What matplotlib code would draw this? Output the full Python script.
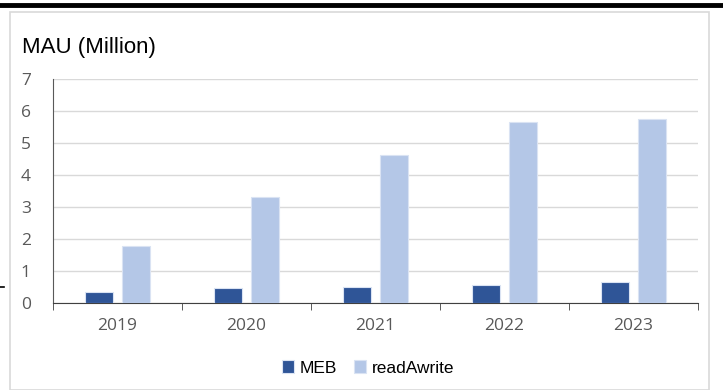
import matplotlib.pyplot as plt
import numpy as np
from matplotlib.patches import Rectangle
from matplotlib.lines import Line2D

years = ["2019", "2020", "2021", "2022", "2023"]
meb = [0.33, 0.47, 0.49, 0.56, 0.67]
readawrite = [1.78, 3.30, 4.63, 5.65, 5.75]

W, H = 723, 390
fig = plt.figure(figsize=(W / 100, H / 100), dpi=100)

# outer frame and top rule
fig.patches.append(Rectangle((10 / W, 0), 699 / W, 378 / H, transform=fig.transFigure,
                             fill=False, edgecolor="#d9d9d9", linewidth=1.2))
fig.lines.append(Line2D([0, 1], [1 - 5 / H, 1 - 5 / H], transform=fig.transFigure,
                        color="black", linewidth=3.5))
fig.lines.append(Line2D([0, 4 / W], [1 - 287 / H, 1 - 287 / H], transform=fig.transFigure,
                        color="black", linewidth=1.2))

ax = fig.add_axes([53 / W, (H - 303) / H, 645 / W, 224 / H])
x = np.arange(len(years))
ax.bar(x - 0.143, meb, width=0.22, color="#2f5597", edgecolor="#dae3f3", linewidth=0.8,
       label="MEB", zorder=3)
ax.bar(x + 0.143, readawrite, width=0.22, color="#b4c7e7", edgecolor="#dae3f3", linewidth=0.8,
       label="readAwrite", zorder=3)

ax.set_xlim(-0.5, len(years) - 0.5)
ax.set_ylim(0, 7)
ax.set_yticks(range(8))
ax.yaxis.grid(True, color="#d9d9d9", linewidth=1)
ax.set_axisbelow(True)
ax.set_xticks(x)
ax.set_xticklabels(years)
ax.set_xticks(np.arange(-0.5, len(years), 1), minor=True)
ax.tick_params(axis="x", which="major", length=0, pad=11, labelsize=12.5, labelcolor="#595959")
ax.tick_params(axis="x", which="minor", length=5, direction="out", color="#404040")
ax.tick_params(axis="y", length=0, pad=16, labelsize=12.5, labelcolor="#595959")
for lab in ax.get_xticklabels() + ax.get_yticklabels():
    lab.set_family(["Open Sans", "DejaVu Sans"])
for s in ["top", "right"]:
    ax.spines[s].set_visible(False)
ax.spines["bottom"].set_color("#404040")
ax.spines["left"].set_color("#595959")

narrow = ["Liberation Sans Narrow", "Liberation Sans", "DejaVu Sans"]
title = fig.text(22 / W, 1 - 48 / H, "MAU (Million)", fontsize=16, family=narrow,
                 va="center", ha="left", color="black")
title.set_stretch("condensed")

leg = fig.legend(loc="center", bbox_to_anchor=(368 / W, 1 - 368 / H), ncol=2, frameon=False,
                 handlelength=0.7, handleheight=0.7, handletextpad=0.3, columnspacing=1.0,
                 prop={"family": narrow, "size": 12.5})
for t in leg.get_texts():
    t.set_color("black")

fig.savefig("out.png", dpi=100)
